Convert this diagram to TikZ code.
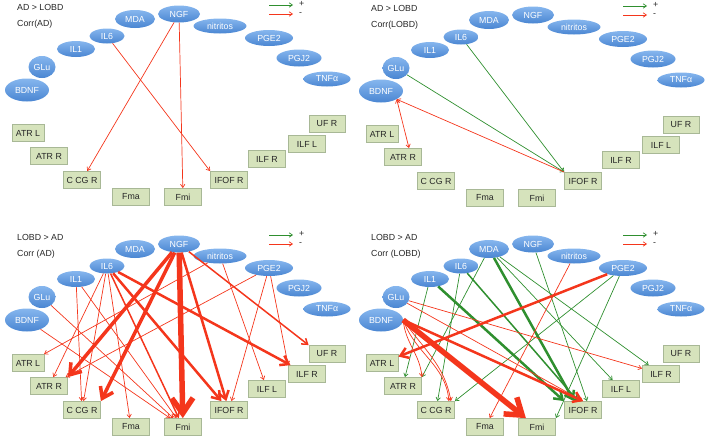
\documentclass[tikz,border=0pt]{standalone}
\usepackage{fontspec}
\setmainfont{Liberation Sans}
\usetikzlibrary{arrows.meta,shapes.geometric}

\definecolor{elltop}{HTML}{86B6EE}
\definecolor{ellbot}{HTML}{4A86D2}
\definecolor{tractfill}{HTML}{D6E3BC}
\definecolor{tractline}{HTML}{A8B896}
\definecolor{negred}{HTML}{F4361C}
\definecolor{posgreen}{HTML}{2F8F2F}

\tikzset{
  marker/.style={ellipse, top color=elltop, bottom color=ellbot, text=white, inner sep=0pt, font=\fontsize{8.8}{10}\selectfont},
  tract/.style={rectangle, fill=tractfill, draw=tractline, line width=0.8pt, minimum width=37pt, minimum height=17pt, inner sep=0pt, text=black!85, font=\fontsize{8.8}{10}\selectfont},
  heading/.style={anchor=west, inner sep=0pt, text=black!85, font=\fontsize{8.8}{10}\selectfont},
  poscorr/.style={draw=posgreen, line width=0.7pt, ->},
  negcorr/.style={draw=negred, line width=0.7pt, ->},
  w2/.style={line width=1.5pt},
  w3/.style={line width=2.5pt},
  w4/.style={line width=3.5pt},
  w6/.style={line width=5.5pt},
  >={Straight Barb[length=1.5pt 2.5,width=2pt 3.5]},
}

% one panel: prefix, two heading lines, inner and outer ILF box (name, label)
\newcommand{\dtipanel}[7]{%
  \node[heading] (#1-head) at (17,7) {#2};
  \node[heading] (#1-corr) at (17,24) {#3};
  % legend
  \coordinate (#1-g0) at (269,5);
  \coordinate (#1-g1) at (293,5);
  \coordinate (#1-r0) at (269,14);
  \coordinate (#1-r1) at (293,14);
  \draw[poscorr] (#1-g0) -- (#1-g1);
  \draw[negcorr] (#1-r0) -- (#1-r1);
  \node[heading] (#1-plus) at (299,4) {+};
  \node[heading] (#1-minus) at (299,14) {-};
  % blood markers
  \node[marker, minimum width=44pt, minimum height=23pt] (#1-BDNF) at (27,90) {BDNF};
  \node[marker, minimum width=27pt, minimum height=22pt] (#1-GLu) at (42,67) {GLu};
  \node[marker, minimum width=38pt, minimum height=16pt] (#1-IL1) at (76,49) {IL1};
  \node[marker, minimum width=35pt, minimum height=15pt] (#1-IL6) at (107,36) {IL6};
  \node[marker, minimum width=40pt, minimum height=18pt] (#1-MDA) at (135,19) {MDA};
  \node[marker, minimum width=42pt, minimum height=17pt] (#1-NGF) at (179,14) {NGF};
  \node[marker, minimum width=53pt, minimum height=15pt] (#1-nitritos) at (220,26) {nitritos};
  \node[marker, minimum width=48pt, minimum height=16pt] (#1-PGE2) at (269,38) {PGE2};
  \node[marker, minimum width=45pt, minimum height=17pt] (#1-PGJ2) at (299,58) {PGJ2};
  \node[marker, minimum width=47pt, minimum height=15pt] (#1-TNFa) at (327,79) {TNFα};
  % tracts
  \node[tract, minimum width=32pt] (#1-ATRL) at (28,133) {ATR L};
  \node[tract] (#1-ATRR) at (49,156) {ATR R};
  \node[tract] (#1-CCGR) at (82,180) {C CG R};
  \node[tract] (#1-Fma) at (131,197) {Fma};
  \node[tract] (#1-Fmi) at (183,197) {Fmi};
  \node[tract] (#1-IFOFR) at (229,180) {IFOF R};
  \node[tract] (#1-#4) at (267,159) {#5};
  \node[tract] (#1-#6) at (307,144) {#7};
  \node[tract, minimum width=36pt] (#1-UFR) at (327,124) {UF R};
}

\begin{document}
\begin{tikzpicture}[x=1pt,y=-1pt]
\useasboundingbox (0,0) rectangle (708,442);

% AD > LOBD, Corr(AD)
\begin{scope}
\dtipanel{a}{AD > LOBD}{Corr(AD)}{ILFR}{ILF R}{ILFL}{ILF L}
\draw[negcorr] (a-NGF) -- (a-CCGR);
\draw[negcorr] (a-NGF) -- (a-Fmi);
\draw[negcorr] (a-IL6) -- (a-IFOFR.north west);
\end{scope}

% AD > LOBD, Corr(LOBD)
\begin{scope}[shift={(354,1)}]
\dtipanel{b}{AD > LOBD}{Corr(LOBD)}{ILFR}{ILF R}{ILFL}{ILF L}
\draw[poscorr] (b-GLu) -- (b-IFOFR.north west);
\draw[poscorr] (b-IL6) -- (b-IFOFR.north west);
\draw[negcorr] (b-IFOFR.north west) -- (b-BDNF.south east);
\draw[negcorr, <->] (b-BDNF.south east) -- ([xshift=6pt]b-ATRR.north);
\end{scope}

% LOBD > AD, Corr (AD)
\begin{scope}[shift={(0,230)}]
\dtipanel{c}{LOBD > AD}{Corr (AD)}{ILFL}{ILF L}{ILFR}{ILF R}
\draw[negcorr, w4] (c-NGF) -- (c-ATRR.north east);
\draw[negcorr, w4] (c-NGF) -- (c-CCGR.north east);
\draw[negcorr, w6] (c-NGF) -- (c-Fmi);
\draw[negcorr, w3] (c-NGF) -- (c-IFOFR);
\draw[negcorr, w2] (c-NGF) -- (c-UFR.north west);
\draw[negcorr] (c-IL6) -- (c-ATRR);
\draw[negcorr] (c-IL6) -- (c-CCGR);
\draw[negcorr] (c-IL6) -- (c-Fma);
\draw[negcorr, w2] (c-IL6) -- (c-Fmi);
\draw[negcorr, w3] (c-IL6) -- (c-IFOFR);
\draw[negcorr, w3] (c-IL6) -- (c-ILFR);
\draw[negcorr] (c-IL1) -- (c-CCGR);
\draw[negcorr] (c-IL1) -- (c-Fmi);
\draw[negcorr] (c-GLu) -- (c-Fmi);
\draw[negcorr] (c-BDNF) -- (c-Fmi);
\draw[negcorr] (c-nitritos) -- (c-ATRL);
\draw[negcorr] (c-nitritos) -- (c-ILFL);
\draw[negcorr] (c-PGE2) -- (c-ATRR);
\draw[negcorr] (c-PGE2) -- (c-IFOFR);
\draw[negcorr] (c-PGE2) -- (c-ILFR.north west);
\end{scope}

% LOBD > AD, Corr (LOBD)
\begin{scope}[shift={(354,230)}]
\dtipanel{d}{LOBD > AD}{Corr (LOBD)}{ILFL}{ILF L}{ILFR}{ILF R}
% positive
\draw[poscorr] (d-MDA) -- (d-ATRR.north east);
\draw[poscorr] (d-IL1) -- ([xshift=2pt]d-ATRR.north);
\draw[poscorr] (d-IL6) -- (d-CCGR);
\draw[poscorr] (d-PGE2) -- (d-CCGR.north east);
\draw[poscorr, w3] (d-IL1) -- (d-IFOFR.north west);
\draw[poscorr, w2] (d-IL6) -- ([xshift=-5pt]d-IFOFR.north);
\draw[poscorr, w3] (d-MDA) -- ([xshift=-9pt]d-IFOFR.north);
\draw[poscorr] (d-NGF) -- ([xshift=4pt]d-IFOFR.north);
\draw[poscorr] (d-MDA) -- (d-ILFL);
\draw[poscorr] (d-MDA) -- (d-ILFR);
\draw[poscorr] (d-PGE2) -- (d-Fmi.north east);
% negative
\draw[negcorr, w6] (d-BDNF.east) -- (d-Fmi);
\draw[negcorr, w3] (d-BDNF.east) -- (d-IFOFR.north);
\draw[negcorr] (d-BDNF.east) to[out=-85,in=95] (d-ATRR.north east);
\draw[negcorr] (d-BDNF.east) to[out=-70,in=95] ([xshift=-6pt]d-CCGR.north east);
\draw[negcorr] (d-BDNF.east) to[out=-55,in=100] ([xshift=-4pt]d-CCGR.north east);
\draw[negcorr] (d-GLu) -- (d-IFOFR.north);
\draw[negcorr] (d-GLu) -- (d-ILFR);
\draw[negcorr, w3] (d-PGE2) -- (d-ATRL);
\draw[negcorr] (d-nitritos) -- (d-Fma);
\end{scope}

\end{tikzpicture}
\end{document}
